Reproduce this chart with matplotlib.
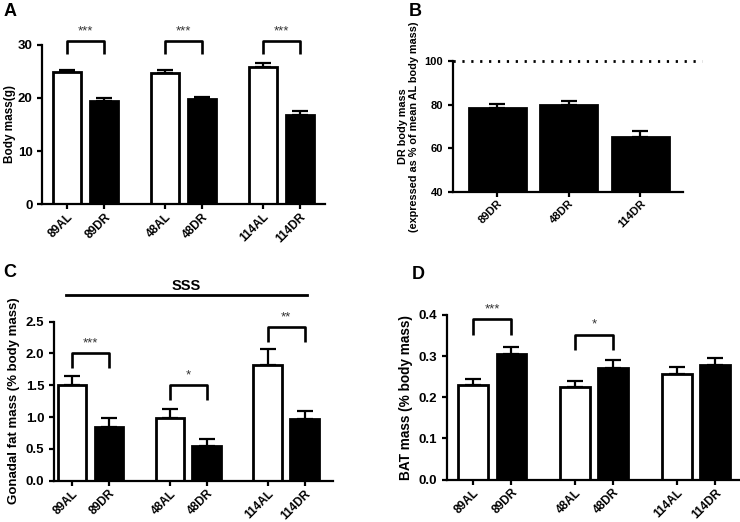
import matplotlib
matplotlib.use("Agg")
import matplotlib.pyplot as plt
import numpy as np

plt.rcParams['font.family'] = ['Liberation Sans', 'DejaVu Sans']
plt.rcParams['font.weight'] = 'bold'

# data
groups_all = ["89AL", "89DR", "48AL", "48DR", "114AL", "114DR"]
groups_dr = ["89DR", "48DR", "114DR"]

body_mass = [24.8, 19.5, 24.7, 19.75, 25.8, 16.7]
body_mass_sem = [0.5, 0.4, 0.6, 0.45, 0.7, 0.8]
body_sig = ["***", "***", "***"]
body_sig_y = [30.8, 30.8, 30.8]

dr_pct = [78.6, 79.8, 65.1]
dr_pct_sem = [1.8, 1.8, 2.6]

gonadal = [1.50, 0.85, 0.99, 0.54, 1.81, 0.97]
gonadal_sem = [0.14, 0.13, 0.14, 0.11, 0.26, 0.13]
gonadal_sig = ["***", "*", "**"]
gonadal_sig_y = [2.0, 1.5, 2.41]

bat = [0.229, 0.305, 0.225, 0.272, 0.257, 0.279]
bat_sem = [0.016, 0.016, 0.015, 0.019, 0.017, 0.017]
bat_sig = ["***", "*", ""]
bat_sig_y = [0.389, 0.352, 0]

GAP = 2.65
pos = np.array([g * GAP + i for g in range(3) for i in range(2)])
colors = ["white", "black"] * 3

fig = plt.figure(figsize=(7.4, 5.22), dpi=100)


def style(ax, size=9.5):
    for s in ["top", "right"]:
        ax.spines[s].set_visible(False)
    for s in ["left", "bottom"]:
        ax.spines[s].set_linewidth(1.6)
    ax.tick_params(width=1.6, length=3.5)
    ax.tick_params(axis='x', pad=1.5)
    ax.tick_params(axis='y', labelsize=size)
    for lab in ax.get_yticklabels():
        lab.set_fontweight('bold')


def bars(ax, x, vals, sem, cols, width):
    ax.errorbar(x, vals, yerr=[np.zeros(len(vals)), sem], fmt='none',
                ecolor='black', elinewidth=1.6, capsize=5.5, capthick=1.6, zorder=1)
    ax.bar(x, vals, width=width, color=cols, edgecolor='black', linewidth=2, zorder=2)


def brackets(ax, sigs, ys, leg):
    for g, (s, y) in enumerate(zip(sigs, ys)):
        if not s:
            continue
        x0, x1 = pos[2 * g], pos[2 * g + 1]
        ax.plot([x0, x0, x1, x1], [y - leg, y, y, y - leg], color='black', lw=1.9,
                clip_on=False, solid_capstyle='butt')
        ax.text((x0 + x1) / 2, y + leg * 0.25, s, ha='center', va='bottom',
                fontsize=9.5, fontweight='normal', color='#333333')


def xlabels(ax, x, labels, size=8.6):
    ax.set_xticks(x)
    ax.set_xticklabels(labels, rotation=45, ha='right', rotation_mode='anchor',
                       fontsize=size, fontweight='bold')


# A
axA = fig.add_axes([0.057, 0.609, 0.382, 0.305])
bars(axA, pos, body_mass, body_mass_sem, colors, 0.76)
axA.set_ylim(0, 30)
axA.set_yticks([0, 10, 20, 30])
axA.set_xlim(-0.68, pos[-1] + 0.68)
xlabels(axA, pos, groups_all)
axA.set_ylabel("Body mass(g)", fontsize=8.5, fontweight='bold', labelpad=1)
brackets(axA, body_sig, body_sig_y, 2.6)
style(axA)

# B
xb = np.arange(len(groups_dr))
axB = fig.add_axes([0.612, 0.633, 0.311, 0.250])
bars(axB, xb, dr_pct, dr_pct_sem, "black", 0.8)
axB.plot([-0.62, 2.86], [100, 100], color='black', lw=2,
         linestyle=(0, (0.8, 2.4)), clip_on=False)
axB.set_ylim(40, 100)
axB.set_yticks([40, 60, 80, 100])
axB.set_xlim(-0.62, 2.6)
xlabels(axB, xb, groups_dr, size=8)
axB.set_ylabel("DR body mass\n(expressed as % of mean AL body mass)",
               fontsize=7.8, fontweight='bold', linespacing=1.1)
style(axB, size=8)

# C
axC = fig.add_axes([0.073, 0.079, 0.377, 0.305])
bars(axC, pos, gonadal, gonadal_sem, colors, 0.78)
axC.set_ylim(0, 2.5)
axC.set_yticks([0, 0.5, 1.0, 1.5, 2.0, 2.5])
axC.set_yticklabels(["0.0", "0.5", "1.0", "1.5", "2.0", "2.5"])
axC.set_xlim(-0.49, pos[-1] + 0.77)
xlabels(axC, pos, groups_all)
axC.set_ylabel("Gonadal fat mass (% body mass)", fontsize=9.5, fontweight='bold')
brackets(axC, gonadal_sig, gonadal_sig_y, 0.23)
axC.plot([-0.16, 6.37], [2.91, 2.91], color='black', lw=2, clip_on=False)
axC.text(3.1, 2.95, "SSS", ha='center', va='bottom', fontsize=10.5, fontweight='bold')
style(axC)

# D
axD = fig.add_axes([0.604, 0.081, 0.394, 0.316])
bars(axD, pos, bat, bat_sem, colors, 0.78)
axD.set_ylim(0, 0.4)
axD.set_yticks([0, 0.1, 0.2, 0.3, 0.4])
axD.set_yticklabels(["0.0", "0.1", "0.2", "0.3", "0.4"])
axD.set_xlim(-0.68, pos[-1] + 0.61)
xlabels(axD, pos, groups_all)
axD.set_ylabel("BAT mass (% body mass)", fontsize=9.8, fontweight='bold')
brackets(axD, bat_sig, bat_sig_y, 0.037)
style(axD)

for letter, x, y in [("A", 0.005, 0.995), ("B", 0.552, 0.995), ("C", 0.005, 0.495), ("D", 0.557, 0.49)]:
    fig.text(x, y, letter, ha='left', va='top', fontsize=13, fontweight='bold')

fig.savefig("out.png", dpi=100)
